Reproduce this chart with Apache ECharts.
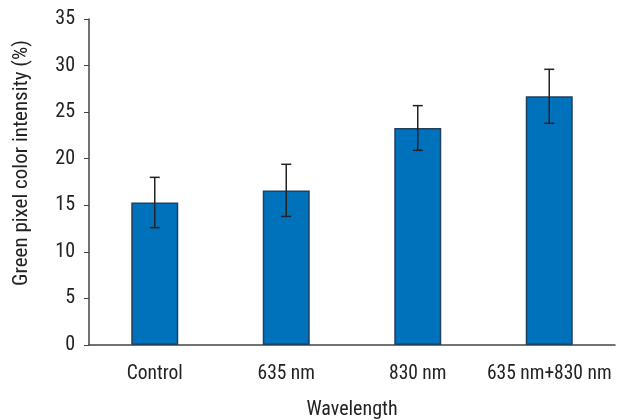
<!DOCTYPE html>
<html><head><meta charset="utf-8">
<script src="https://cdn.jsdelivr.net/npm/echarts@6/dist/echarts.min.js"></script>
<style>html,body{margin:0;padding:0;background:#fff}#c{width:625px;height:420px}</style>
</head><body><div id="c"></div>
<script>
var categories = ['Control', '635 nm', '830 nm', '635 nm+830 nm'];
var means = [15.3, 16.6, 23.3, 26.7];
var errors = [2.7, 2.8, 2.4, 2.9];
var yTicks = [0, 5, 10, 15, 20, 25, 30, 35];

var FONT = '"Liberation Sans Narrow", "Roboto Condensed", "DejaVu Sans Condensed", sans-serif';
var chart = echarts.init(document.getElementById('c'), null, {renderer: 'canvas'});
chart.setOption({
  animation: false,
  grid: {left: 89, right: 10, top: 19, bottom: 75, outerBoundsMode: 'none', containLabel: false},
  xAxis: {
    type: 'category', data: categories,
    name: 'Wavelength', nameLocation: 'middle', nameGap: 55,
    nameTextStyle: {fontFamily: FONT, fontSize: 20, color: '#222'},
    axisLine: {lineStyle: {color: '#444', width: 1.5}},
    axisTick: {show: false},
    axisLabel: {fontFamily: FONT, fontSize: 19.5, color: '#222', margin: 19, interval: 0}
  },
  yAxis: {
    type: 'value', min: yTicks[0], max: yTicks[yTicks.length - 1], interval: 5,
    name: 'Green pixel color intensity (%)', nameLocation: 'middle', nameGap: 57,
    nameTextStyle: {fontFamily: FONT, fontSize: 21, color: '#222', padding: [0, 0, 0, 38]},
    axisLine: {show: true, lineStyle: {color: '#444', width: 1.5}},
    axisTick: {show: true, length: 5, lineStyle: {color: '#444'}},
    splitLine: {show: false},
    axisLabel: {fontFamily: FONT, fontSize: 20, color: '#222', margin: 14}
  },
  series: [{
    type: 'bar', data: means, barWidth: 47,
    itemStyle: {color: '#0072bc', borderColor: '#22405e', borderWidth: 1.5}
  }, {
    type: 'custom',
    data: means.map(function (m, i) { return [i, m - errors[i], m + errors[i]]; }),
    renderItem: function (params, api) {
      var x = api.value(0);
      var lo = api.coord([x, api.value(1)]);
      var hi = api.coord([x, api.value(2)]);
      var w = 10;
      var st = {stroke: '#222', lineWidth: 1.5};
      return {type: 'group', children: [
        {type: 'line', shape: {x1: lo[0], y1: lo[1], x2: hi[0], y2: hi[1]}, style: st},
        {type: 'line', shape: {x1: hi[0] - w / 2, y1: hi[1], x2: hi[0] + w / 2, y2: hi[1]}, style: st},
        {type: 'line', shape: {x1: lo[0] - w / 2, y1: lo[1], x2: lo[0] + w / 2, y2: lo[1]}, style: st}
      ]};
    },
    z: 10
  }]
});
</script></body></html>
